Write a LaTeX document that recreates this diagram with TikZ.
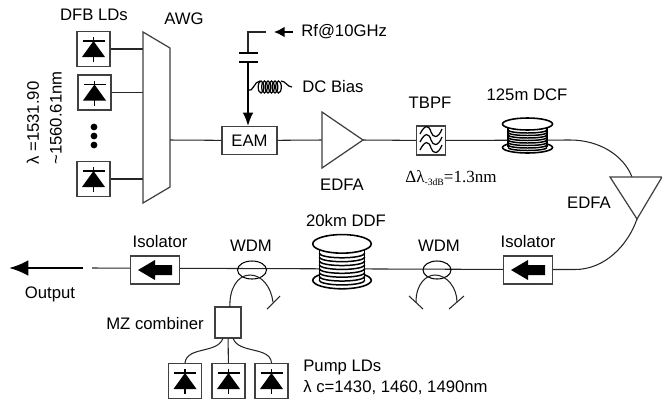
\documentclass[tikz,border=0pt]{standalone}
\usepackage{fontspec}
\setmainfont{Liberation Sans}
\newfontfamily\timesfont{Liberation Serif}
\usetikzlibrary{arrows.meta}
\tikzset{
  fibre/.style={line width=.6pt, black!85},
  devbox/.style={draw=black!75, line width=.7pt, fill=white, inner sep=0pt},
  ldbox/.style={devbox, minimum width=.66cm, minimum height=.7cm},
  isobox/.style={devbox, minimum width=.98cm, minimum height=.56cm},
  lbl/.style={font=\fontsize{9.5}{11}\selectfont, inner sep=0pt},
  diode/.pic={
    \fill (-11.5, 8) -- (11.5, 8) -- (0, -8) -- cycle ;
    \draw[line width=.6pt] (-11, -8) -- (11, -8) ;
    \draw[line width=.6pt] (0, -12) -- (0, 13) ;
  },
  blockarrow/.pic={
    \fill (17, -5) -- (0, -5) -- (0, -10) -- (-17, 0) -- (0, 10) -- (0, 5) -- (17, 5) -- cycle ;
  },
  spool/.pic={
    \draw[line width=.9pt, fill=white] (0, 10.5) ellipse [x radius=25, y radius=5.5] ;
    \fill[white] (-19.5, -13) rectangle (19.5, 11) ;
    \draw[line width=.7pt] (-19.5, -13) -- (-19.5, 10) (19.5, -13) -- (19.5, 10) ;
    \foreach \wy in {-7, -4.5, -2, .5, 3, 5.5, 8, 10.5}
      \draw[line width=.85pt] (-19.5, \wy) arc [start angle=180, end angle=0, x radius=19.5, y radius=3] ;
    \draw[line width=.9pt, fill=white] (0, -13) ellipse [x radius=25, y radius=6] ;
  },
}
\begin{document}
\begin{tikzpicture}[x=.02cm, y=-.02cm]
  \useasboundingbox (0, 0) rectangle (662, 403) ;
  % lasers and AWG
  \node[ldbox] (ld1) at (93.5, 49) {} ;
  \node[ldbox] (ld2) at (94.5, 92.5) {} ;
  \node[ldbox] (ld3) at (93.5, 179) {} ;
  \foreach \dy in {127, 136, 145}
    \fill (94, \dy) circle (3.4) ;
  \coordinate (awgin1) at (143, 49) ;
  \coordinate (awgin2) at (143, 92.5) ;
  \coordinate (awgin3) at (143, 179) ;
  \coordinate (awgout) at (170, 140) ;
  \draw[fibre] (ld1) -- (awgin1) ;
  \draw[fibre] (ld2) -- (awgin2) ;
  \draw[fibre] (ld3) -- (awgin3) ;
  \foreach \ld in {ld1, ld2, ld3} {
    \node[ldbox] at (\ld) {} ;
    \pic at (\ld) {diode} ;
  }
  \draw[devbox] (143, 32) -- (170, 48) -- (170, 187) -- (143, 203) -- cycle ;
  \node[devbox, minimum width=1.1cm, minimum height=.56cm] (eam) at (249.5, 140.5) {\fontsize{9.5}{11}\selectfont EAM} ;
  \draw[fibre] (awgout) -- (eam) ;
  % RF and bias feed
  \coordinate (rfwire) at (266, 32) ;
  \coordinate (rfcorner) at (248, 32) ;
  \coordinate (capa) at (248, 53) ;
  \coordinate (capb) at (248, 62) ;
  \coordinate (coilfoot) at (248, 90) ;
  \coordinate (coilend) at (292, 87) ;
  \draw[fibre] (rfwire) -- (rfcorner) -- (capa) ;
  \draw[line width=.8pt] (239, 53) -- (258, 53) (239, 62) -- (258, 62) ;
  \draw[line width=.8pt, -{Latex[length=7.5pt, width=6pt]}] (capb) -- (eam.north -| capb) ;
  \draw[line width=.7pt] (coilfoot) to[out=-30, in=180] (260, 81) ;
  \foreach \cx in {261, 264.5, ..., 281}
    \draw[line width=.7pt] (\cx, 87) ellipse [x radius=2.8, y radius=6] ;
  \draw[line width=.7pt] (281, 81) to[out=0, in=180] (coilend) ;
  \node[lbl, anchor=west] (rflabel) at (301, 32) {Rf@10GHz} ;
  \coordinate (rfarrow) at (293, 32) ;
  \coordinate (rftip) at (274, 32) ;
  \draw[line width=.8pt, -{Latex[length=6pt, width=6pt]}] (rfarrow) -- (rftip) ;
  \node[lbl, anchor=west] (dclabel) at (302, 87) {DC Bias} ;
  % upper line
  \coordinate (ampin) at (322, 140) ;
  \coordinate (ampout) at (363, 140) ;
  \draw[fibre] (eam) -- (ampin) ;
  \draw[devbox] (322, 112) -- (ampout) -- (322, 168) -- cycle ;
  \node[devbox, minimum width=.58cm, minimum height=.58cm] (tbpf) at (431, 140.5) {} ;
  \foreach \fy in {-8, 0, 8}
    \draw[line width=.7pt] (420, 142+\fy) .. controls (425, 132+\fy) and (429, 133+\fy) .. (431, 140+\fy) .. controls (433, 146+\fy) and (438, 147+\fy) .. (442, 137+\fy) ;
  \coordinate (dcf) at (527.5, 137) ;
  \coordinate (curveout) at (570, 140) ;
  \coordinate (edfain) at (632, 177) ;
  \draw[fibre] (ampout) -- (tbpf) ;
  \draw[fibre] (tbpf) -- (curveout) ;
  \draw[fibre] (curveout) .. controls (600, 140) and (624, 156) .. (edfain) ;
  \pic at (dcf) {spool} ;
  \coordinate (edfaout) at (637, 219) ;
  \draw[devbox] (610, 177) -- (662, 177) -- (edfaout) -- cycle ;
  % lower line
  \coordinate (isobend) at (575, 269.5) ;
  \coordinate (ddf) at (342, 264) ;
  \coordinate (wdmr) at (437, 270) ;
  \coordinate (wdml) at (252, 270) ;
  \coordinate (outstart) at (92, 268) ;
  \draw[fibre] (edfaout) .. controls (628, 245) and (605, 269.5) .. (isobend) -- (528, 269.5) ;
  \draw[fibre] (528, 269.5) -- (outstart) ;
  \node[isobox] (isor) at (528, 270) {} ;
  \node[isobox] (isol) at (155, 270) {} ;
  \pic at (isor) {blockarrow} ;
  \pic at (isol) {blockarrow} ;
  \pic[xscale=1.17, yscale=1.55] at (ddf) {spool} ;
  \draw[line width=.6pt] (wdmr) ellipse [x radius=14, y radius=9] ;
  \draw[line width=.6pt] (wdml) ellipse [x radius=14.5, y radius=9] ;
  \coordinate (outa) at (83, 268) ;
  \coordinate (outb) at (9, 268) ;
  \draw[line width=1.4pt, -{Latex[length=11pt, width=9pt]}] (outa) -- (outb) ;
  % WDM branches
  \draw[fibre] (416, 302) .. controls (416, 284) and (426, 275) .. (435, 275) .. controls (447, 275) and (457, 288) .. (457, 302) ;
  \draw[fibre] (409, 296) -- (423, 309) ;
  \draw[fibre] (464, 296) -- (449, 309) ;
  \node[devbox, minimum width=.52cm, minimum height=.62cm] (mz) at (228, 322.5) {} ;
  \coordinate (wdmtail) at (273, 302) ;
  \draw[fibre] (230, 307) .. controls (229, 290) and (237, 275) .. (250, 275) .. controls (262, 275) and (271, 287) .. (wdmtail) ;
  \draw[fibre] (280, 296) -- (267, 309) ;
  % pumps
  \node[ldbox] (pump1) at (185, 381) {} ;
  \node[ldbox] (pump2) at (228.5, 381) {} ;
  \node[ldbox] (pump3) at (271.5, 381) {} ;
  \foreach \ld in {pump1, pump2, pump3}
    \pic at (\ld) {diode} ;
  \draw[fibre] (223, 338) .. controls (218, 354) and (187, 346) .. (pump1.north) ;
  \draw[fibre] (mz) -- (pump2) ;
  \draw[fibre] (233, 338) .. controls (238, 354) and (270, 346) .. (pump3.north) ;
  % labels
  \node[lbl] (dfblabel) at (94, 15) {DFB LDs} ;
  \node[lbl] (awglabel) at (184, 19) {AWG} ;
  \node[lbl, rotate=90, anchor=west] (lamlabel) at (33, 165) {λ =1531.90} ;
  \node[lbl, rotate=90, anchor=west] (rangelabel) at (56, 165) {\textasciitilde 1560.61nm} ;
  \node[lbl] (tbpflabel) at (430, 103) {TBPF} ;
  \node[lbl] (dcflabel) at (527, 95) {125m DCF} ;
  \node[lbl] (ampalabel) at (342, 185) {EDFA} ;
  \node[lbl] (ampblabel) at (589, 203) {EDFA} ;
  \node[lbl, anchor=west, font=\timesfont\fontsize{9.7}{12}\selectfont] (bwlabel) at (405, 178) {Δλ\raisebox{-2pt}{\fontsize{5.5}{7}\selectfont -3dB}=1.3nm} ;
  \node[lbl] (ddflabel) at (346, 221) {20km DDF} ;
  \node[lbl] (wdmllabel) at (251, 246) {WDM} ;
  \node[lbl] (wdmrlabel) at (439, 246) {WDM} ;
  \node[lbl] (isollabel) at (160, 242) {Isolator} ;
  \node[lbl] (isorlabel) at (528, 242) {Isolator} ;
  \node[lbl] (outlabel) at (50, 294) {Output} ;
  \node[lbl] (mzlabel) at (155, 324) {MZ combiner} ;
  \node[lbl, anchor=west] (pumplabel) at (303, 367) {Pump LDs} ;
  \node[lbl, anchor=west] (pumplam) at (303, 388) {λ c=1430, 1460, 1490nm} ;
\end{tikzpicture}
\end{document}
